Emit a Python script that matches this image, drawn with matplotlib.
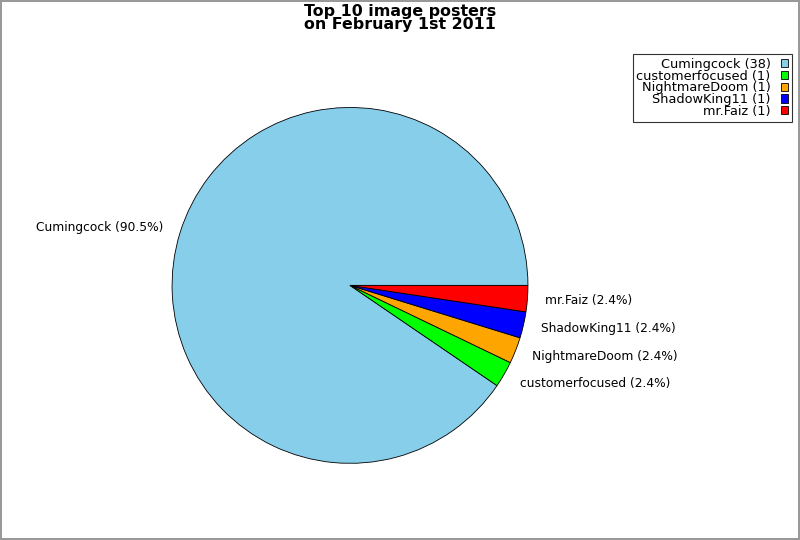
import matplotlib
matplotlib.use("Agg")
import matplotlib.pyplot as plt

names = ['Cumingcock', 'customerfocused', 'NightmareDoom', 'ShadowKing11', 'mr.Faiz']
counts = [38, 1, 1, 1, 1]
colors = ['#87ceeb', '#00ff00', '#ffa500', '#0000ff', '#ff0000']

total = sum(counts)
labels = ['%s (%.1f%%)' % (n, 100.0 * c / total) for n, c in zip(names, counts)]
leg_labels = ['%s (%d)' % (n, c) for n, c in zip(names, counts)]

fig = plt.figure(figsize=(8, 5.4), dpi=100)
fig.patch.set_edgecolor('#999999')
fig.patch.set_linewidth(1.5)
ax = fig.add_axes([0.215, 0.142, 0.445, 0.659])

wedges, texts = ax.pie(counts, labels=labels, colors=colors, startangle=0,
                       labeldistance=1.1,
                       wedgeprops=dict(edgecolor='black', linewidth=0.6),
                       textprops=dict(fontsize=8.8))
ax.set_xlim(-1, 1)
ax.set_ylim(-1, 1)
ax.set_aspect('equal')

fig.suptitle('Top 10 image posters\non February 1st 2011', fontsize=11.4,
             fontweight='bold', y=0.993, linespacing=0.85)

leg = fig.legend(wedges, leg_labels, loc='upper right', bbox_to_anchor=(0.99, 0.9),
                 markerfirst=False, fontsize=9.3, handlelength=0.55, handleheight=0.6,
                 labelspacing=-0.1, handletextpad=0.8, borderpad=0.3,
                 frameon=True, fancybox=False, borderaxespad=0)
leg.get_frame().set_edgecolor('black')
leg.get_frame().set_linewidth(0.8)
for t in leg.get_texts():
    t.set_ha('right')
    t.set_position((0, 0))
for h in leg.legend_handles:
    h.set_edgecolor('black')
    h.set_linewidth(0.6)

fig.savefig('out.png', dpi=100)
